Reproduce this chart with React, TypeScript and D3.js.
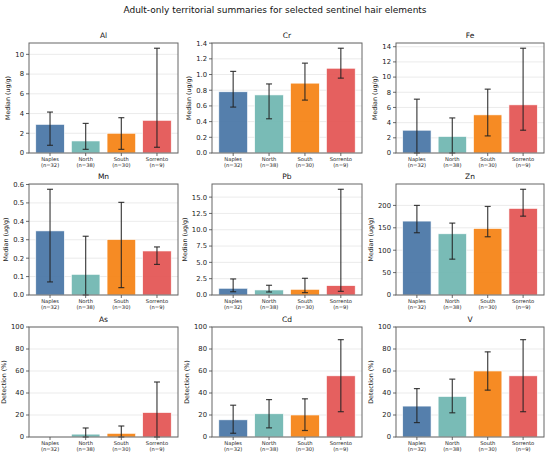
import React from "react";
import * as d3 from "d3";

const chartTitle = "Adult-only territorial summaries for selected sentinel hair elements";
const categories = ["Naples", "North", "South", "Sorrento"];
const sampleSizes = [32, 38, 30, 9];
const colors = ["#4C78A8", "#72B7B2", "#F58518", "#E45756"];

const elements = ["Al", "Cr", "Fe", "Mn", "Pb", "Zn", "As", "Cd", "V"];
const yLabels = [
  "Median (ug/g)", "Median (ug/g)", "Median (ug/g)",
  "Median (ug/g)", "Median (ug/g)", "Median (ug/g)",
  "Detection (%)", "Detection (%)", "Detection (%)",
];
const isDetection = [false, false, false, false, false, false, true, true, true];
const tickSteps = [2, 0.2, 2, 0.1, 2.5, 50, 20, 20, 20];
const tickDecimals = [0, 1, 0, 1, 1, 0, 0, 0, 0];

// values per element: [Naples, North, South, Sorrento]
const values = [
  [2.9, 1.22, 2.0, 3.31],      // Al
  [0.78, 0.74, 0.89, 1.08],    // Cr
  [3.0, 2.17, 5.02, 6.34],     // Fe
  [0.348, 0.112, 0.301, 0.239],// Mn
  [1.03, 0.77, 0.87, 1.43],    // Pb
  [165, 136.6, 148.4, 193.2],  // Zn
  [0, 2.6, 3.3, 22.2],         // As
  [15.6, 21.1, 20.0, 55.6],    // Cd
  [28.1, 36.8, 60.0, 55.6],    // V
];
const lowerBounds = [
  [0.78, 0.37, 0.37, 0.58],
  [0.585, 0.436, 0.674, 0.954],
  [0, 0, 2.25, 3.0],
  [0.071, 0, 0.04, 0.166],
  [0.5, 0.46, 0.36, 0.56],
  [139, 80, 130, 176],
  [0, 0, 0, 0],
  [3.4, 8.3, 5.9, 23.0],
  [13.1, 22.0, 42.6, 23.0],
];
const upperBounds = [
  [4.15, 3.0, 3.58, 10.62],
  [1.04, 0.88, 1.145, 1.335],
  [7.09, 4.62, 8.41, 13.8],
  [0.574, 0.319, 0.503, 0.261],
  [2.46, 1.49, 2.56, 16.2],
  [200, 160.5, 197.7, 236],
  [0, 8.2, 10.0, 50.0],
  [28.9, 34.0, 34.7, 88.5],
  [44.0, 52.6, 77.4, 88.5],
];

const W = 550;
const H = 455;
const colLefts = [29, 212, 396];
const colWidths = [149, 150, 148];
const rowTops = [43, 184, 327];
const rowHeights = [110, 111, 110];
const FONT = "DejaVu Sans, sans-serif";

function textWidth(s: string, size: number) {
  let w = 0;
  for (const ch of s) w += ch === "." ? 0.318 : 0.636;
  return w * size;
}

function Panel({ idx }: { idx: number }) {
  const col = idx % 3;
  const row = Math.floor(idx / 3);
  const left = colLefts[col];
  const top = rowTops[row];
  const w = colWidths[col];
  const h = rowHeights[row];

  const vals = values[idx];
  const lo = lowerBounds[idx];
  const hi = upperBounds[idx];
  const ymax = isDetection[idx] ? 100 : (d3.max(hi) as number) * 1.05;

  const x = d3.scaleLinear().domain([-0.59, 3.59]).range([0, w]);
  const y = d3.scaleLinear().domain([0, ymax]).range([h, 0]);
  const step = tickSteps[idx];
  const ticks = d3.range(0, ymax + 1e-9, step).filter((t) => t <= ymax + 1e-9);
  const fmt = (t: number) => t.toFixed(tickDecimals[idx]);
  const maxLabW = d3.max(ticks, (t) => textWidth(fmt(t), 6.8)) as number;
  const ylabX = -(maxLabW + 10);
  const barW = 0.8;
  const cap = 3;

  return (
    <g transform={`translate(${left},${top})`}>
      {ticks.map((t) => (
        <line key={"g" + t} x1={0} x2={w} y1={y(t)} y2={y(t)} stroke="#e6e6e6" strokeWidth={0.8} />
      ))}
      {vals.map((v, i) => (
        <rect
          key={"b" + i}
          x={x(i - barW / 2)}
          y={y(v)}
          width={x(i + barW / 2) - x(i - barW / 2)}
          height={h - y(v)}
          fill={colors[i]}
          fillOpacity={0.95}
          stroke="#ffffff"
          strokeWidth={0.6}
        />
      ))}
      {vals.map((v, i) =>
        hi[i] - lo[i] > 0 ? (
          <g key={"e" + i} stroke="#222" strokeWidth={1.2} strokeOpacity={0.85}>
            <line x1={x(i)} x2={x(i)} y1={y(lo[i])} y2={y(hi[i])} />
            <line x1={x(i) - cap} x2={x(i) + cap} y1={y(hi[i])} y2={y(hi[i])} />
            <line x1={x(i) - cap} x2={x(i) + cap} y1={y(lo[i])} y2={y(lo[i])} />
          </g>
        ) : null
      )}
      <rect x={0} y={0} width={w} height={h} fill="none" stroke="#666" strokeWidth={1} />
      {ticks.map((t) => (
        <g key={"t" + t} transform={`translate(0,${y(t)})`}>
          <line x1={-3} x2={0} stroke="#444" strokeWidth={0.8} />
          <text x={-5} dy="0.35em" textAnchor="end" fontSize={6.8} fill="#222" fontFamily={FONT}>
            {fmt(t)}
          </text>
        </g>
      ))}
      {categories.map((c, i) => (
        <g key={"x" + i} transform={`translate(${x(i)},${h})`}>
          <line y1={0} y2={3} stroke="#444" strokeWidth={0.8} />
          <text y={8.2} textAnchor="middle" fontSize={5.2} fill="#222" fontFamily={FONT}>
            {c}
          </text>
          <text y={14} textAnchor="middle" fontSize={5.2} fill="#222" fontFamily={FONT}>
            {`(n=${sampleSizes[i]})`}
          </text>
        </g>
      ))}
      <text
        transform={`translate(${ylabX},${h / 2}) rotate(-90)`}
        textAnchor="middle"
        fontSize={6.3}
        fill="#222"
        fontFamily={FONT}
      >
        {yLabels[idx]}
      </text>
      <text x={w / 2} y={-5} textAnchor="middle" fontSize={7.5} fill="#111" fontFamily={FONT}>
        {elements[idx]}
      </text>
    </g>
  );
}

export default function App() {
  return (
    <svg
      width={W}
      height={H}
      viewBox={`0 0 ${W} ${H}`}
      style={{ position: "absolute", left: 0, top: 0, background: "#fff" }}
    >
      <rect width={W} height={H} fill="#fff" />
      <text x={W / 2} y={12.5} textAnchor="middle" fontSize={9} fill="#111" fontFamily={FONT}>
        {chartTitle}
      </text>
      {elements.map((_, i) => (
        <Panel key={i} idx={i} />
      ))}
    </svg>
  );
}
